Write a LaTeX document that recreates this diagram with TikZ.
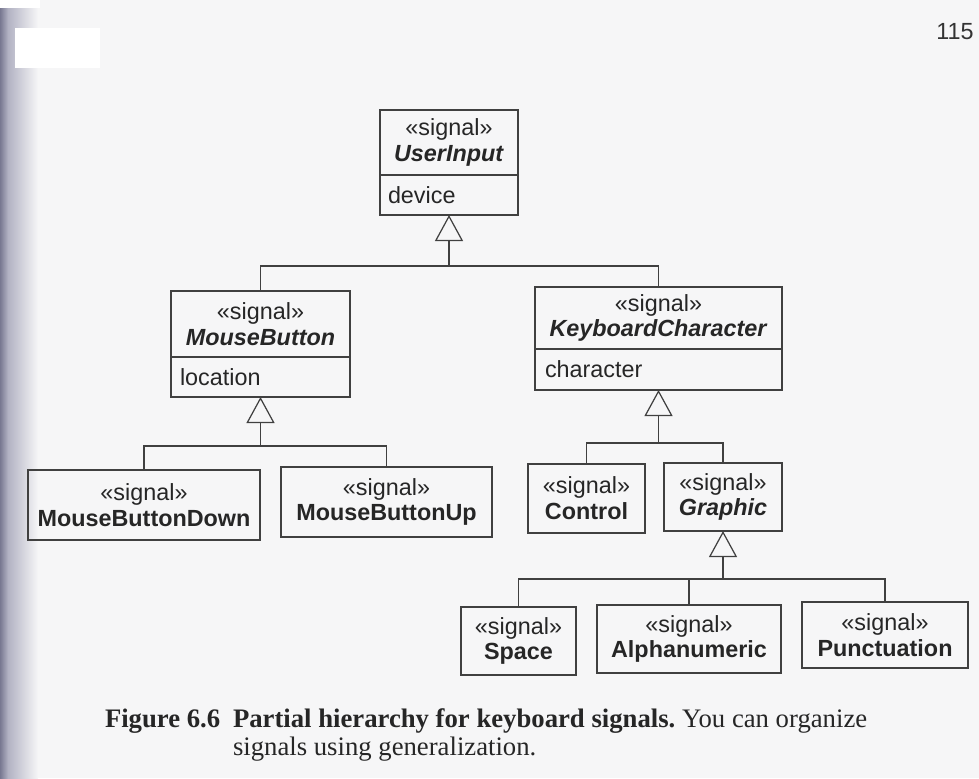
\documentclass[tikz,border=0pt]{standalone}
\usepackage{fontspec}
\setmainfont{Liberation Serif}
\setsansfont{Liberation Sans}
\usetikzlibrary{arrows.meta}
\frenchspacing
\definecolor{stripdark}{RGB}{120,120,145}
\definecolor{stripmid}{RGB}{178,178,195}
\definecolor{paper}{RGB}{246,246,247}
\tikzset{
  lbl/.style={font=\sffamily\fontsize{13.3}{14.7}\selectfont, text=black!85, inner sep=0, outer sep=0},
  box/.style 2 args={draw=black!75, line width=0.7pt, inner sep=0, outer sep=0,
     minimum width=#1*0.02cm, minimum height=#2*0.02cm, align=center,
     font=\sffamily\fontsize{13.3}{14.7}\selectfont, text=black!85},
  wire/.style={draw=black!75, line width=0.7pt},
  gen/.style={draw=black!75, line width=0.7pt, -{Triangle[open, width=0.56cm, length=0.52cm]}},
  captext/.style={font=\fontsize{15.2}{17}\selectfont, text=black!85, inner sep=0, outer sep=0, anchor=base west}
}
\begin{document}
\begin{tikzpicture}[x=0.02cm, y=-0.02cm]
\useasboundingbox (0,0) rectangle (979,778);
\fill[paper] (0,0) rectangle (979,778);
\fill[white] (0,0) rectangle (40,8);
\fill[left color=stripdark, right color=stripmid] (0,8) rectangle (8,778);
\fill[left color=stripmid, right color=paper] (8,8) rectangle (38,778);
\fill[white] (15,28) rectangle (100,68);

% page number
\node[font=\sffamily\fontsize{13.3}{15}\selectfont, text=black!80] (pg) at (955,32) {115};

% UserInput
\node[box={138}{65}] (ui) at (449,142.5) {«signal»\\\textbf{\textit{UserInput}}};
\node[box={138}{40}, anchor=north] (uiA) at (ui.south) {};
\node[lbl, anchor=west] (uiT) at ([xshift=0.16cm]uiA.west) {device};

% MouseButton
\node[box={179}{66}] (mb) at (260.5,324) {«signal»\\\textbf{\textit{MouseButton}}};
\node[box={179}{40}, anchor=north] (mbA) at (mb.south) {};
\node[lbl, anchor=west] (mbT) at ([xshift=0.18cm]mbA.west) {location};

% KeyboardCharacter
\node[box={247}{62}] (kc) at (658.5,318) {«signal»\\\textbf{\textit{KeyboardCharacter}}};
\node[box={247}{41}, anchor=north] (kcA) at (kc.south) {};
\node[lbl, anchor=west] (kcT) at ([xshift=0.2cm]kcA.west) {character};

% leaves
\node[box={232}{70}] (mbd) at (144,505) {«signal»\\\textbf{MouseButtonDown}};
\node[box={211}{70}] (mbu) at (386.5,502) {«signal»\\\textbf{MouseButtonUp}};
\node[box={117}{69}] (ctl) at (586.5,498.5) {«signal»\\\textbf{Control}};
\node[box={118}{68}] (gra) at (723,497) {«signal»\\\textbf{\textit{Graphic}}};
\node[box={115}{68}] (spc) at (518.5,641) {«signal»\\\textbf{Space}};
\node[box={184}{68}] (alp) at (689,639) {«signal»\\\textbf{Alphanumeric}};
\node[box={166}{66}] (pun) at (885,635) {«signal»\\\textbf{Punctuation}};

% generalizations
\coordinate (j1) at (449,266);
\draw[gen] (j1) -- (uiA.south);
\draw[wire] (mb.north) |- (j1) -| (kc.north);

\coordinate (j2) at (260.5,446);
\draw[gen] (j2) -- (mbA.south);
\draw[wire] (mbd.north) |- (j2) -| (mbu.north);

\coordinate (j3) at (658.5,443);
\draw[gen] (j3) -- (kcA.south);
\draw[wire] (ctl.north) |- (j3) -| (gra.north);

\coordinate (j4) at (723,579);
\draw[gen] (j4) -- (gra.south);
\draw[wire] (spc.north) |- (j4) -| (pun.north);
\draw[wire] (alp.north) -- (alp.north |- j4);

% caption
\node[captext] (c1) at (105,727) {\textbf{Figure 6.6}};
\node[captext] (c2) at (233,727) {\textbf{Partial hierarchy for keyboard signals.} You can organize};
\node[captext] (c3) at (233,755) {signals using generalization.};
\end{tikzpicture}
\end{document}
